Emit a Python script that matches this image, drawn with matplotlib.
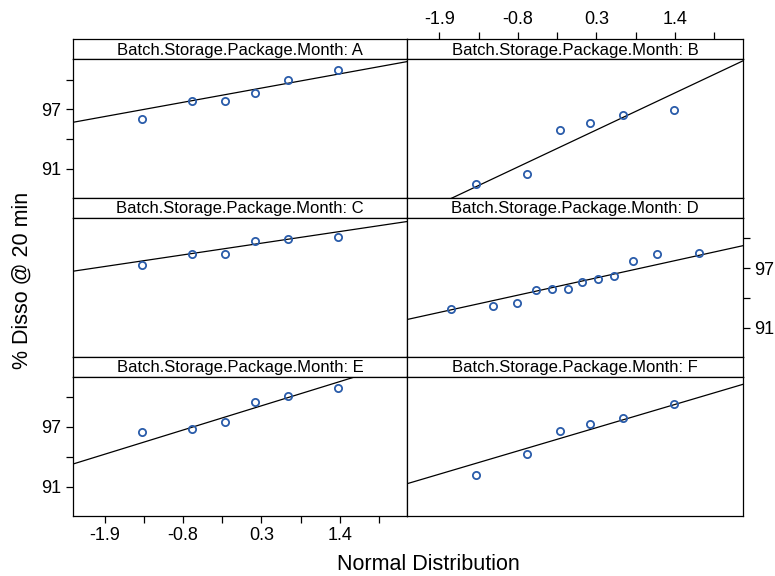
import matplotlib
matplotlib.use("Agg")
import matplotlib.pyplot as plt
import numpy as np

plt.rcParams['font.family'] = ['Liberation Sans', 'DejaVu Sans']

# normal quantiles
q6 = [-1.383, -0.674, -0.210, 0.210, 0.674, 1.383]
q12 = [-1.732, -1.150, -0.812, -0.549, -0.319, -0.105,
       0.105, 0.319, 0.549, 0.812, 1.150, 1.732]

# % dissolved at 20 min, sorted, per panel
dissoA = [95.99, 97.87, 97.87, 98.65, 99.96, 100.94]
dissoB = [89.42, 90.50, 94.91, 95.58, 96.39, 96.90]
dissoC = [97.36, 98.47, 98.47, 99.76, 99.96, 100.16]
dissoD = [92.89, 93.22, 93.46, 94.81, 94.88, 94.88,
          95.59, 95.95, 96.25, 97.67, 98.47, 98.55]
dissoE = [96.45, 96.80, 97.46, 99.53, 100.09, 100.94]
dissoF = [92.21, 94.27, 96.60, 97.26, 97.87, 99.28]

grupos = ["A", "B", "C", "D", "E", "F"]
xticks = [-1.9, -1.35, -0.8, -0.25, 0.3, 0.85, 1.4, 1.95]
xlabels = ["-1.9", "", "-0.8", "", "0.3", "", "1.4", ""]
yticks = [91, 94, 97, 100]
ylabels = ["91", "", "97", ""]

W, H = 775, 576
fig = plt.figure(figsize=(W / 100, H / 100), dpi=100)

def caja(x0, y0, x1, y1):
    return [x0 / W, 1 - y1 / H, (x1 - x0) / W, (y1 - y0) / H]

cols = [(72.7, 407.3), (407.3, 742.7)]
filas = [(39, 59.3, 197.7), (197.7, 218, 356.7), (356.7, 376.7, 515.7)]

datos = [(q6, dissoA), (q6, dissoB), (q6, dissoC),
         (q12, dissoD), (q6, dissoE), (q6, dissoF)]

# donde van los ejes (alternados como en lattice)
ejes = {"A": "left", "B": "top", "C": None, "D": "right", "E": "leftbottom", "F": None}

for i, g in enumerate(grupos):
    fila, col = i // 2, i % 2
    x0, x1 = cols[col]
    s0, p0, p1 = filas[fila]
    lado = ejes[g]

    st = fig.add_axes(caja(x0, s0, x1, p0))
    st.set_xlim(-2.35, 2.35)
    st.set_yticks([])
    st.text(0.5, 0.45, "Batch.Storage.Package.Month: " + g, ha="center", va="center",
            fontsize=12, transform=st.transAxes)
    for sp in st.spines.values():
        sp.set_linewidth(0.9)
    if lado == "top":
        # el eje de arriba va sobre la tira
        st.set_xticks(xticks)
        st.set_xticklabels(xlabels)
        st.tick_params(direction="out", length=5, width=0.9, labelsize=13, pad=3,
                       bottom=False, labelbottom=False, top=True, labeltop=True)
    else:
        st.set_xticks([])

    ax = fig.add_axes(caja(x0, p0, x1, p1))
    qx, yy = datos[i]
    ax.plot(qx, yy, "o", mfc="none", mec="#2a5caa", ms=5.2, mew=1.3, zorder=3)

    # linea qq por los cuartiles
    y25, y75 = np.quantile(yy, [0.25, 0.75])
    pend = (y75 - y25) / (2 * 0.6745)
    centro = (y25 + y75) / 2
    xs = np.array([-2.5, 2.5])
    ax.plot(xs, centro + pend * xs, color="black", lw=0.9, zorder=2)

    ax.set_xlim(-2.35, 2.35)
    ax.set_ylim(88.07, 102.05)
    for sp in ax.spines.values():
        sp.set_linewidth(0.9)

    ax.tick_params(direction="out", length=5, width=0.9, labelsize=13, pad=3,
                   left=False, labelleft=False, bottom=False, labelbottom=False)
    ax.set_xticks(xticks)
    ax.set_xticklabels(xlabels)
    ax.set_yticks(yticks)
    ax.set_yticklabels(ylabels)
    if lado == "left" or lado == "leftbottom":
        ax.tick_params(left=True, labelleft=True)
    if lado == "leftbottom":
        ax.tick_params(bottom=True, labelbottom=True)
    if lado == "right":
        ax.tick_params(right=True, labelright=True)

fig.text(428 / W, 1 - 575 / H, "Normal Distribution", ha="center", va="bottom", fontsize=15.5)
fig.text(22 / W, 1 - 280 / H, "% Disso @ 20 min", ha="center", va="center",
         rotation=90, fontsize=15.5)

fig.savefig("out.png", dpi=100)
